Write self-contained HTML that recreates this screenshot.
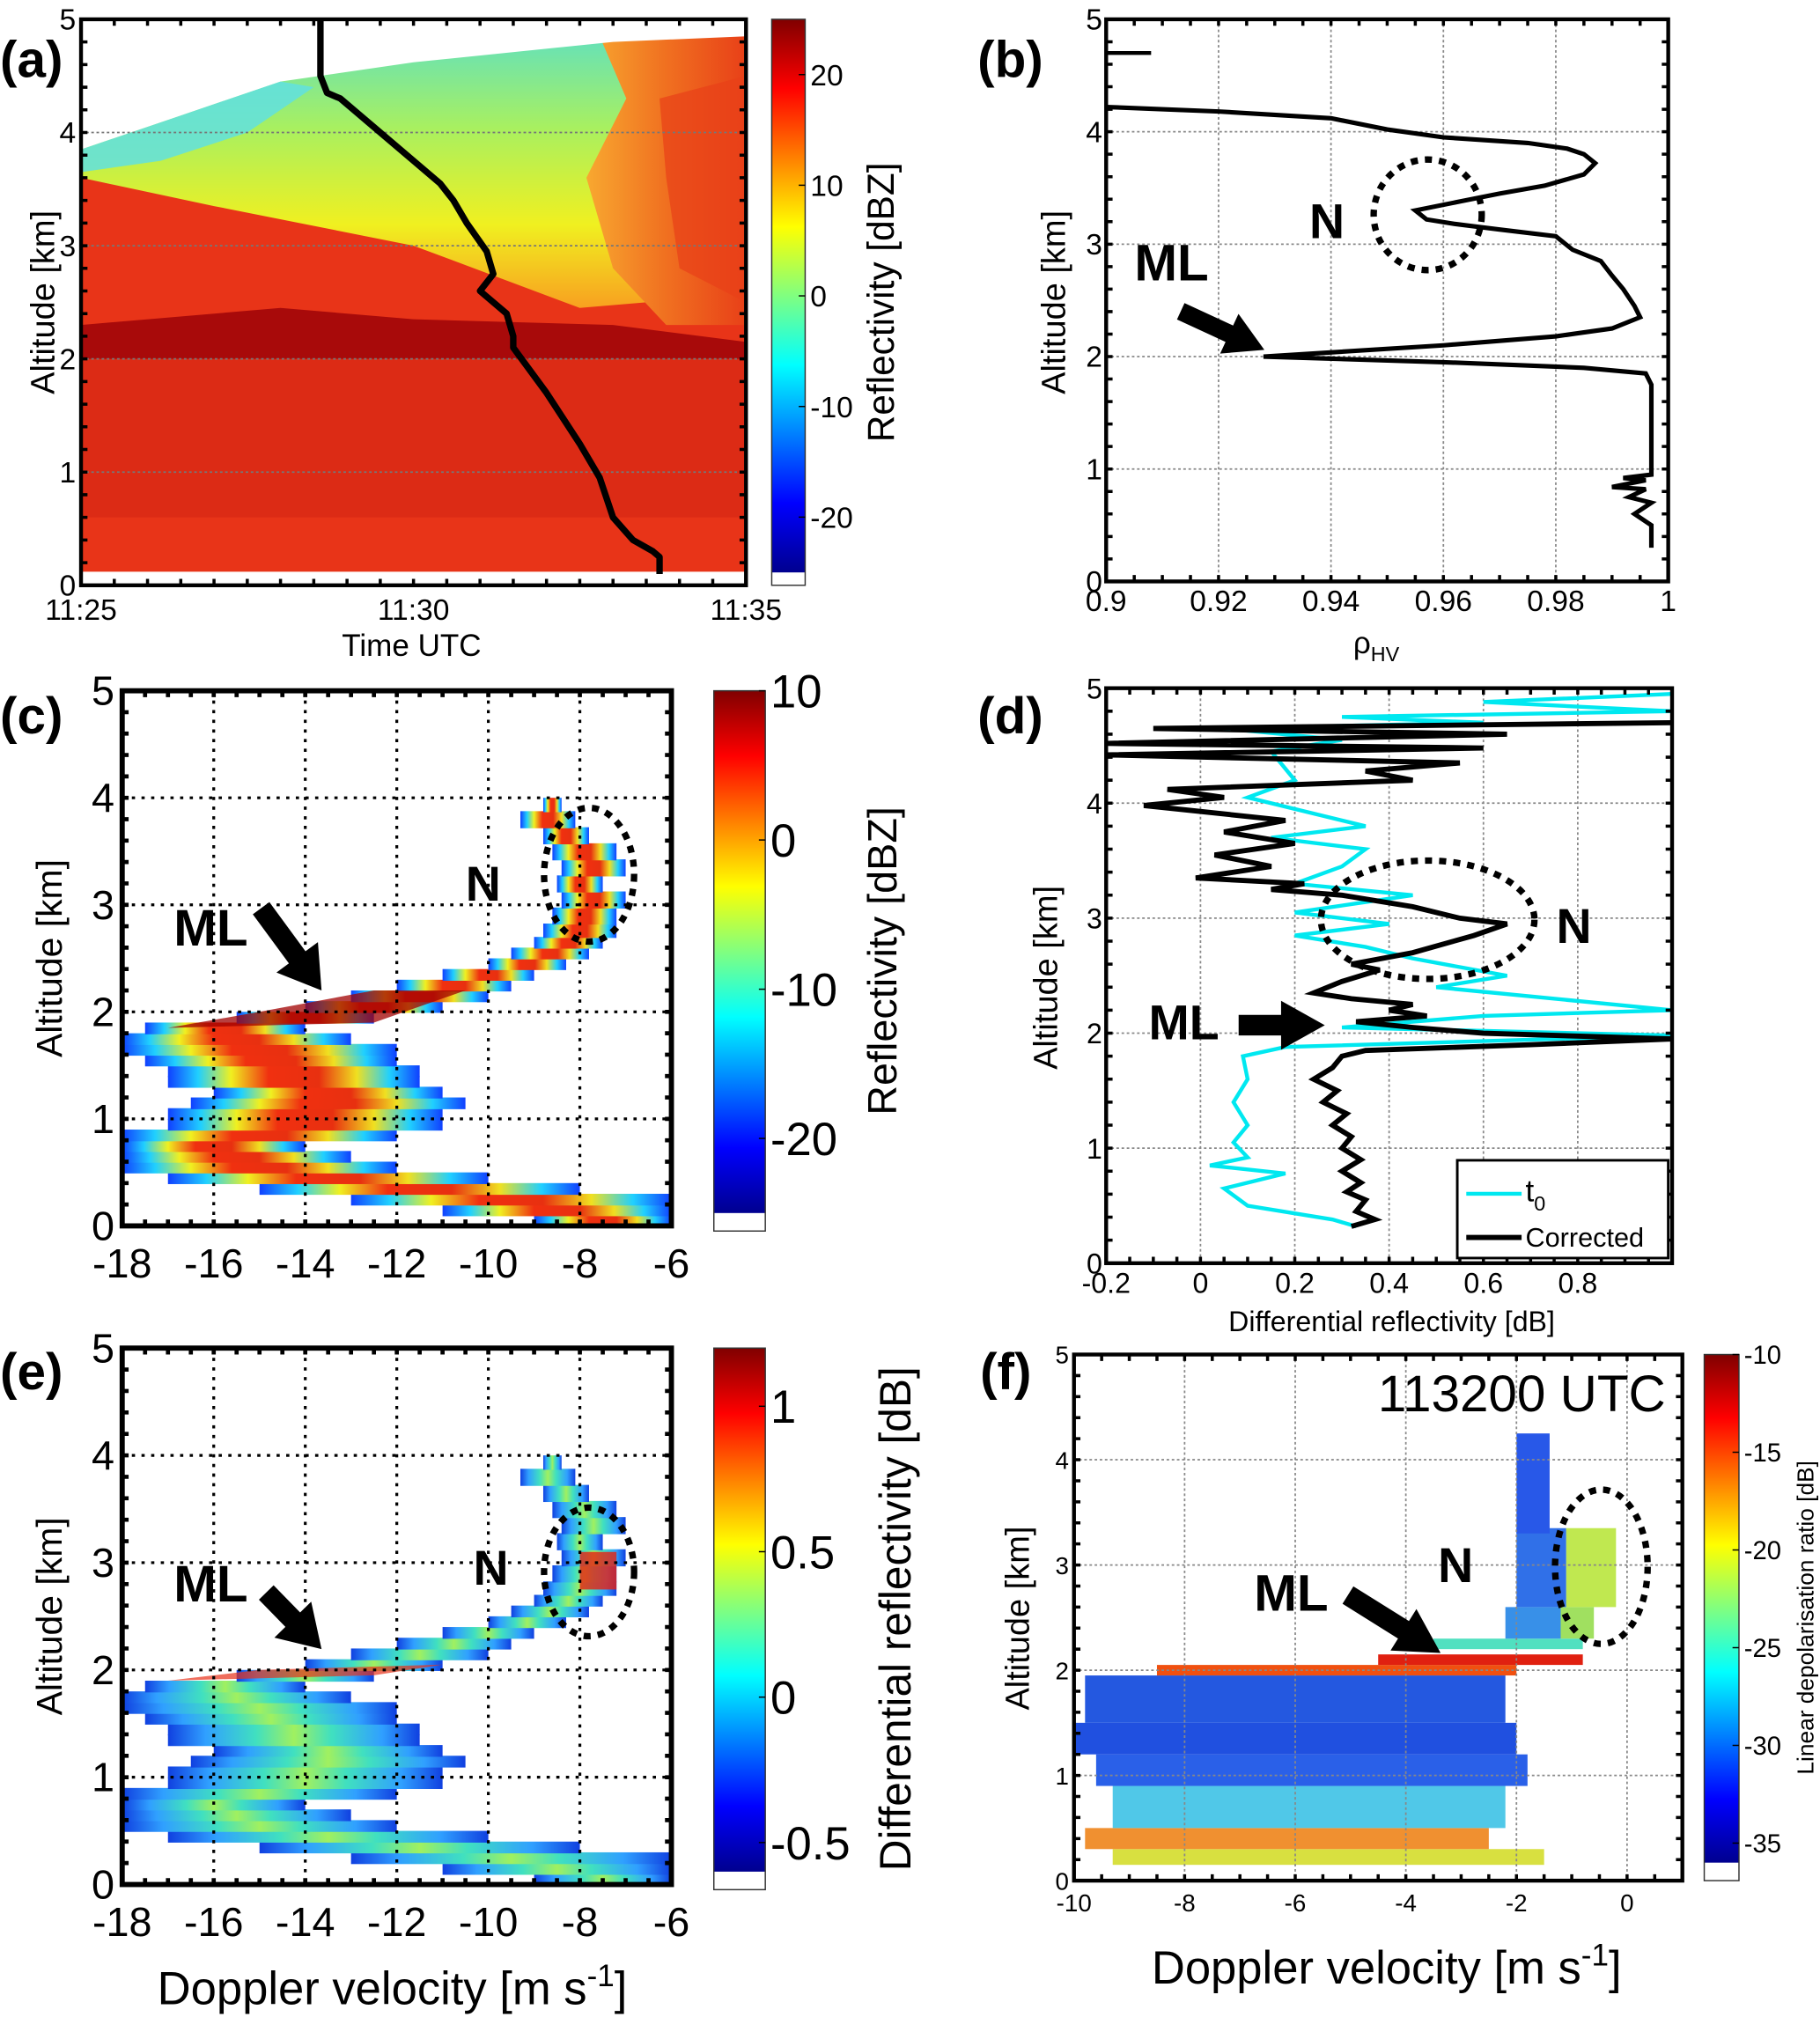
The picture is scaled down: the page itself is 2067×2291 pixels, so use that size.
<!DOCTYPE html>
<html><head><meta charset="utf-8">
<style>
html,body{margin:0;padding:0;background:#fff;}
svg{display:block;font-family:"Liberation Sans",sans-serif;}
</style></head>
<body>
<svg id="fig" xmlns="http://www.w3.org/2000/svg" width="2067" height="2291" viewBox="0 0 1415 1568" preserveAspectRatio="none">
<defs>
<linearGradient id="jetV" x1="0" y1="1" x2="0" y2="0">
<stop offset="0" stop-color="#00008f"/><stop offset="0.125" stop-color="#0000ff"/><stop offset="0.375" stop-color="#00ffff"/><stop offset="0.5" stop-color="#80ff80"/><stop offset="0.625" stop-color="#ffff00"/><stop offset="0.875" stop-color="#ff0000"/><stop offset="1" stop-color="#800000"/>
</linearGradient>
<linearGradient id="rowC" x1="0" y1="0" x2="1" y2="0">
<stop offset="0" stop-color="#1040ff"/><stop offset="0.12" stop-color="#20d0ff"/><stop offset="0.25" stop-color="#f0f020"/><stop offset="0.4" stop-color="#f03010"/><stop offset="0.6" stop-color="#e83010"/><stop offset="0.75" stop-color="#f0e020"/><stop offset="0.88" stop-color="#20d0ff"/><stop offset="1" stop-color="#1040ff"/>
</linearGradient>
<linearGradient id="rowE" x1="0" y1="0" x2="1" y2="0">
<stop offset="0" stop-color="#1040e0"/><stop offset="0.15" stop-color="#30a0ff"/><stop offset="0.35" stop-color="#40e0c0"/><stop offset="0.5" stop-color="#a0f060"/><stop offset="0.65" stop-color="#40e0c0"/><stop offset="0.85" stop-color="#30a0ff"/><stop offset="1" stop-color="#1040e0"/>
</linearGradient>
<linearGradient id="aTop" x1="0" y1="0" x2="0" y2="1">
<stop offset="0" stop-color="#60e0c0"/><stop offset="0.35" stop-color="#a8f060"/><stop offset="0.7" stop-color="#f0f020"/><stop offset="1" stop-color="#f8a020"/>
</linearGradient>
<linearGradient id="aRight" x1="0" y1="0" x2="1" y2="0">
<stop offset="0" stop-color="#f8a830"/><stop offset="0.5" stop-color="#f07020"/><stop offset="1" stop-color="#e84018"/>
</linearGradient>
</defs>
<g id="root"></g>
</svg>
<script>
// ---------- data ----------
const trajT = [3.6,3.6,3.7,3.9,4.4,5.0,5.4,5.6,5.8,6.1,6.2,6.0,6.4,6.5,6.5,7.0,7.5,7.8,8.0,8.3,8.6,8.7,8.7];
const trajA = [5.0,4.5,4.35,4.3,4.05,3.75,3.55,3.4,3.2,2.95,2.75,2.6,2.4,2.2,2.1,1.7,1.25,0.95,0.6,0.4,0.3,0.25,0.1];
const rhoV = [0.9,0.92,0.94,0.95,0.96,0.975,0.982,0.985,0.987,0.985,0.978,0.97,0.963,0.955,0.957,0.962,0.97,0.98,0.983,0.988,0.99,0.992,0.994,0.995,0.99,0.98,0.96,0.928,0.96,0.985,0.996,0.997,0.997,0.997,0.997,0.992,0.996,0.99,0.996,0.993,0.997,0.994,0.997,0.997];
const rhoA = [4.22,4.18,4.12,4.02,3.95,3.9,3.85,3.8,3.72,3.62,3.52,3.45,3.38,3.3,3.22,3.18,3.13,3.07,2.95,2.85,2.72,2.6,2.45,2.35,2.25,2.18,2.1,2.0,1.95,1.9,1.85,1.75,1.5,1.2,0.95,0.92,0.9,0.84,0.82,0.75,0.7,0.6,0.5,0.3];
const corrV = [0.32,0.37,0.33,0.35,0.31,0.34,0.30,0.34,0.30,0.32,0.28,0.31,0.26,0.29,0.24,0.28,0.30,0.35,0.7,1.0,0.6,0.45,0.33,0.48,0.4,0.45,0.32,0.24,0.30,0.38,0.32,0.45,0.58,0.65,0.55,0.45,0.30,0.15,0.22,-0.01,0.15,0.03,0.2,0.05,0.18,-0.12,0.05,-0.07,0.45,0.35,0.55,-0.2,0.6,-0.2,0.65,-0.1,1.0];
const corrA = [0.32,0.38,0.45,0.55,0.62,0.7,0.8,0.9,1.0,1.1,1.2,1.3,1.4,1.5,1.6,1.7,1.8,1.85,1.9,1.95,2.0,2.05,2.1,2.15,2.2,2.25,2.3,2.35,2.45,2.55,2.6,2.7,2.85,2.95,3.0,3.1,3.2,3.25,3.3,3.35,3.45,3.55,3.65,3.75,3.85,3.98,4.05,4.12,4.2,4.28,4.35,4.42,4.48,4.52,4.6,4.65,4.7];
const t0V = [0.33,0.28,0.1,0.05,0.18,0.02,0.1,0.07,0.1,0.07,0.1,0.09,0.18,1.0,0.3,0.6,1.0,0.5,0.65,0.45,0.35,0.2,0.4,0.2,0.45,0.2,0.3,0.35,0.15,0.35,0.2,0.1,0.2,0.15,0.3,0.05,0.6,0.3,1.0,0.6,1.0];
const t0A = [0.32,0.38,0.5,0.65,0.78,0.85,0.92,1.05,1.2,1.4,1.6,1.8,1.88,1.98,2.05,2.15,2.2,2.4,2.5,2.65,2.75,2.85,2.95,3.05,3.2,3.3,3.45,3.6,3.7,3.8,3.95,4.05,4.2,4.45,4.55,4.65,4.7,4.75,4.8,4.88,4.95];
const specA = [0.05,0.15,0.25,0.35,0.45,0.55,0.65,0.75,0.85,0.95,1.05,1.15,1.25,1.35,1.45,1.55,1.65,1.75,1.85,1.95,2.05,2.15,2.25,2.35,2.45,2.55,2.65,2.75,2.9,3.05,3.2,3.35,3.5,3.65,3.8,3.95];
const specL = [-9,-11,-13,-15,-17,-18,-18,-18,-18,-17,-17,-16.5,-16,-17,-17,-17.5,-18,-18,-17.5,-15.5,-14,-13,-12,-11,-10,-9.5,-9,-8.8,-8.6,-8.4,-8.5,-8.4,-8.6,-8.8,-9.3,-8.8];
const specR = [-6,-6,-6,-8,-10,-12,-13,-14,-12,-11,-11,-10.5,-11,-11.5,-11.5,-12,-12,-13,-14,-12.5,-11,-10,-9.5,-9,-8.3,-7.8,-7.5,-7.2,-7.2,-7.0,-7.5,-7.0,-7.2,-7.8,-8.1,-8.4];
const ldrA0 = [0.15,0.3,0.5,0.9,1.2,1.5,1.95,2.05,2.2,2.3,2.3,2.6,2.6,3.3];
const ldrA1 = [0.3,0.5,0.9,1.2,1.5,1.95,2.05,2.15,2.3,2.6,2.6,3.35,3.35,4.25];
const ldrL = [-9.3,-9.8,-9.3,-9.6,-10,-9.8,-8.5,-4.5,-3.5,-2.2,-1.2,-2.0,-1.1,-2.0];
const ldrR = [-1.5,-2.5,-2.2,-1.8,-2.0,-2.2,-2.0,-0.8,-0.8,-1.2,-0.6,-1.1,-0.2,-1.4];
const ldrC = ["#d8e040","#f09030","#50c8e8","#2a60e8","#2050e0","#2458e0","#f05010","#e02010","#50e0c0","#3890e8","#a0e060","#3070e8","#c0e850","#2858e8"];
const ticksAlt = [0,1,2,3,4,5];
const ticksTime = ["11:25","11:30","11:35"];
const ticksRho = [0.9,0.92,0.94,0.96,0.98,1];
const ticksVel = [-18,-16,-14,-12,-10,-8,-6];
const ticksZdr = [-0.2,0,0.2,0.4,0.6,0.8];
const ticksVelF = [-10,-8,-6,-4,-2,0];
const cbA = [20,10,0,-10,-20];
const cbC = [10,0,-10,-20];
const cbE = [1,0.5,0,-0.5];
const cbF = [-10,-15,-20,-25,-30,-35];

// ---------- helpers ----------
const NS="http://www.w3.org/2000/svg";
const root=document.getElementById('root');
function mk(tag,attrs,parent,text){const e=document.createElementNS(NS,tag);for(const k in attrs)e.setAttribute(k,attrs[k]);if(text!==undefined)e.textContent=text;(parent||root).appendChild(e);return e;}
function lin(d0,d1,p0,p1){return v=>p0+(v-d0)/(d1-d0)*(p1-p0);}
function txt(x,y,s,size,anchor,parent,extra){return mk('text',Object.assign({x:x,y:y,'font-size':size,'text-anchor':anchor||'middle',fill:'#000'},extra||{}),parent,s);}
function panel(name){const g=mk('g',{});return g;}
function gridAndBox(g,x0,x1,y0,y1,gx,gy,bw,dash,gc){
  gx.forEach(x=>{const l=mk('line',{x1:x,x2:x,y1:y0,y2:y1,stroke:gc,'stroke-width':bw>2?2.2:1.2,'stroke-dasharray':dash},g);});
  gy.forEach(y=>{const l=mk('line',{x1:x0,x2:x1,y1:y,y2:y,stroke:gc,'stroke-width':bw>2?2.2:1.2,'stroke-dasharray':dash},g);});
}
function box(g,x0,x1,y0,y1,bw,nx,ny){
  const r=mk('rect',{x:x0,y:y0,width:x1-x0,height:y1-y0,fill:'none',stroke:'#000','stroke-width':bw},g);
  
  
  let d='';
  for(let i=1;i<nx;i++){const x=x0+(x1-x0)*i/nx;d+=`M${x},${y1}v-5M${x},${y0}v5`;}
  for(let i=1;i<ny;i++){const y=y0+(y1-y0)*i/ny;d+=`M${x0},${y}h5M${x1},${y}h-5`;}
  mk('path',{d:d,stroke:'#000','stroke-width':bw*0.8,fill:'none'},g);
}
function colorbar(name,x,y,w,h,ticks,v0,v1,size,lx,label,lsize,whiteH){
  const g=mk('g',{});
  
  
  const ys=lin(v0,v1,y+h-whiteH,y);
  mk('rect',{x:x,y:y,width:w,height:h-whiteH,fill:'url(#jetV)'},g);
  mk('rect',{x:x,y:y,width:w,height:h,fill:'none',stroke:'#333','stroke-width':1},g);
  ticks.forEach(t=>{const yy=ys(t);mk('line',{x1:x+w-5,x2:x+w,y1:yy,y2:yy,stroke:'#000'},g);const e=txt(x+w+4,yy+size*0.36,String(t),size,'start',g);});
  const cy=y+h/2;
  const lab=txt(lx,cy,label,lsize,'middle',g,{transform:`rotate(-90 ${lx} ${cy})`});
  
  
}
function arrow(g,x0,y0,x1,y1,w,hw,hl){
  const dx=x1-x0,dy=y1-y0,L=Math.hypot(dx,dy),ux=dx/L,uy=dy/L,px=-uy,py=ux;
  const bx=x1-ux*hl,by=y1-uy*hl;
  const pts=[[x0+px*w,y0+py*w],[bx+px*w,by+py*w],[bx+px*hw,by+py*hw],[x1,y1],[bx-px*hw,by-py*hw],[bx-px*w,by-py*w],[x0-px*w,y0-py*w]];
  const a=mk('polygon',{points:pts.map(p=>p.join(',')).join(' '),fill:'#000'},g);
  
  
}
function ell(g,cx,cy,rx,ry,sw){const e=mk('ellipse',{cx:cx,cy:cy,rx:rx,ry:ry,fill:'none',stroke:'#000','stroke-width':sw,'stroke-dasharray':`${sw*1.1} ${sw*1.1}`},g);}
function label(s,x,y,size,name){const e=txt(x,y,s,size,'start',null,{'font-weight':'bold'});}
function ytitle(g,x,cy,s,size){const e=txt(x,cy,s,size,'middle',g,{transform:`rotate(-90 ${x} ${cy})`});}

// ---------- panel a ----------
(function(){
  const X0=63,X1=580,Y0=15,Y1=455;
  const xs=lin(0,10,X0,X1), ys=lin(0,5,Y1,Y0);
  const g=panel('panel-a-time-height');
  const P=a=>a.map(p=>xs(p[0])+','+ys(p[1])).join(' ');
  mk('rect',{x:X0,y:ys(4.9),width:X1-X0,height:ys(0.12)-ys(4.9),fill:'#e83418'},g);
  // yellow/green upper region
  mk('polygon',{points:P([[0,3.85],[1.5,4.2],[3,4.5],[5,4.7],[8,4.85],[10,4.9],[10,3.6],[8.5,2.5],[7.5,2.45],[5,3.0],[2,3.35],[0,3.6]]),fill:'url(#aTop)'},g);
  // right orange-red region
  mk('polygon',{points:P([[7.8,4.85],[10,4.9],[10,2.3],[8.8,2.3],[8.0,2.8],[7.6,3.6],[8.2,4.3]]),fill:'url(#aRight)'},g);
  mk('polygon',{points:P([[8.7,4.3],[10,4.5],[10,2.5],[9,2.8],[8.8,3.6]]),fill:'#e84018',opacity:0.7},g);
  // white top
  mk('polygon',{points:P([[0,5],[0,3.85],[1.5,4.15],[3,4.45],[5,4.62],[8,4.8],[10,4.85],[10,5]]),fill:'#fff'},g);
  // cyan speckle edge
  mk('polygon',{points:P([[0,3.85],[1.5,4.15],[3,4.45],[3.5,4.4],[2.5,4.0],[1.2,3.75],[0,3.65]]),fill:'#60e0e0',opacity:0.85},g);
  // ML dark band
  mk('polygon',{points:P([[0,2.0],[10,2.0],[10,2.15],[8,2.3],[5,2.35],[3,2.45],[0,2.3]]),fill:'#a80a0a'},g);
  mk('rect',{x:X0,y:ys(2.0),width:X1-X0,height:ys(0.6)-ys(2.0),fill:'#c01810',opacity:0.3},g);
  gridAndBox(g,X0,X1,Y0,Y1,[],ticksAlt.slice(1,5).map(ys),1,'2 2','#777');
  const d=trajT.map((t,i)=>(i?'L':'M')+xs(t)+','+ys(trajA[i])).join('');
  const p=mk('path',{d:d,stroke:'#000','stroke-width':5,fill:'none','stroke-linejoin':'round'},g);
  
  
  box(g,X0,X1,Y0,Y1,3,20,25);
  ticksAlt.forEach(v=>{const e=txt(X0-4,ys(v)+8,String(v),23,'end',g);});
  ticksTime.forEach((s,i)=>{const e=txt(xs(i*5),482,s,23,'middle',g);});
  const xt=txt(320,510,'Time UTC',24,'middle',g);
  ytitle(g,42,235,'Altitude [km]',26);
  colorbar('colorbar-a',600,15,26,440,cbA,-25,25,23,695,'Reflectivity [dBZ]',29,10);
  label('(a)',0,60,40,'panel-label-a');
})();

// ---------- panel b ----------
(function(){
  const X0=860,X1=1297,Y0=15,Y1=452;
  const xs=lin(0.9,1,X0,X1), ys=lin(0,5,Y1,Y0);
  const g=panel('panel-b-rhohv');
  gridAndBox(g,X0,X1,Y0,Y1,ticksRho.slice(1,5).map(xs),ticksAlt.slice(1,5).map(ys),1,'2 2','#888');
  mk('path',{d:`M${xs(0.9)},${ys(4.7)}H${xs(0.908)}`,stroke:'#000','stroke-width':3},g);
  const d=rhoV.map((v,i)=>(i?'L':'M')+xs(v)+','+ys(rhoA[i])).join('');
  const p=mk('path',{d:d,stroke:'#000','stroke-width':3.5,fill:'none'},g);
  
  
  box(g,X0,X1,Y0,Y1,3,20,25);
  ticksAlt.forEach(v=>{const e=txt(X0-3,ys(v)+8,String(v),23,'end',g);});
  ticksRho.forEach(v=>{const e=txt(xs(v),475,String(v),23,'middle',g);});
  const xt=txt(1070,508,'ρ',24,'middle',g);
  mk('tspan',{'font-size':16,dy:6},xt,'HV');
  ytitle(g,828,235,'Altitude [km]',26);
  ell(g,1110,167,42,43,5);
  arrow(g,918,242,983,272,7,17,30);
  label('ML',882,218,40,'ml-label-b');
  label('N',1018,185,38,'n-label-b');
  label('(b)',760,60,40,'panel-label-b');
})();

// ---------- spectrum panels c and e ----------
function spectrum(name,Y0,Y1,grad,cbTicks,cv0,cv1,cbLabel,cbLsize,letter,ly,extra){
  const X0=95,X1=522;
  const xs=lin(-18,-6,X0,X1), ys=lin(0,5,Y1,Y0);
  const g=panel(name);
  specA.forEach((a,i)=>{
    const lo=i>0?(a+specA[i-1])/2:a-0.05, hi=i<specA.length-1?(a+specA[i+1])/2:a+0.05;
    const r=mk('rect',{x:xs(specL[i]),y:ys(hi),width:Math.max(2,xs(specR[i])-xs(specL[i])),height:ys(lo)-ys(hi)+0.8,fill:`url(#${grad})`},g);
    
    
  });
  if(extra)extra(g,xs,ys);
  gridAndBox(g,X0,X1,Y0,Y1,ticksVel.slice(1,6).map(xs),ticksAlt.slice(1,5).map(ys),3,'2.5 5','#000');
  box(g,X0,X1,Y0,Y1,4,24,25);
  ticksAlt.forEach(v=>{const e=txt(X0-6,ys(v)+11,String(v),32,'end',g);});
  ticksVel.forEach(v=>{const e=txt(xs(v),Y1+40,String(v),32,'middle',g);});
  ytitle(g,48,(Y0+Y1)/2,'Altitude [km]',28);
  colorbar('colorbar-'+letter,555,Y0,40,Y1-Y0+4,cbTicks,cv0,cv1,36,cbLabel==='Reflectivity [dBZ]'?697:708,cbLabel,cbLsize,14);
  label('('+letter+')',0,ly,40,'panel-label-'+letter);
  return {g,xs,ys};
}
(function(){
  const r=spectrum('panel-c-doppler-reflectivity',537,953,'rowC',cbC,-25,10,'Reflectivity [dBZ]',32,'c',570,(g,xs,ys)=>{
    mk('polygon',{points:[[-17,1.85],[-12.5,1.9],[-10.5,2.2],[-12.5,2.2],[-15,2.0]].map(p=>xs(p[0])+','+ys(p[1])).join(' '),fill:'#a00000',opacity:0.75},g);
  });
  ell(r.g,458,680,35,52,5);
  arrow(r.g,203,706,250,770,8,20,32);
  label('ML',135,735,40,'ml-label-c');
  label('N',362,700,38,'n-label-c');
})();
(function(){
  const r=spectrum('panel-e-doppler-zdr',1048,1465,'rowE',cbE,-0.6,1.2,'Differential reflectivity [dB]',34,'e',1080,(g,xs,ys)=>{
    mk('polygon',{points:[[-17,1.9],[-12.5,1.95],[-11,2.05],[-15,2.0]].map(p=>xs(p[0])+','+ys(p[1])).join(' '),fill:'#e83018',opacity:0.7},g);
    mk('rect',{x:xs(-8),y:ys(3.1),width:xs(-7.2)-xs(-8),height:ys(2.75)-ys(3.1),fill:'#e82010',opacity:0.8},g);
  });
  ell(r.g,458,1222,35,50,5);
  arrow(r.g,207,1238,250,1282,8,20,32);
  label('ML',135,1245,40,'ml-label-e');
  label('N',368,1232,38,'n-label-e');
  const xt=txt(305,1558,'Doppler velocity [m s',36,'middle',r.g);
  mk('tspan',{'font-size':24,dy:-14},xt,'-1');mk('tspan',{'font-size':36,dy:14},xt,']');
})();

// ---------- panel d ----------
(function(){
  const X0=860,X1=1300,Y0=535,Y1=982;
  const xs=lin(-0.2,1.0,X0,X1), ys=lin(0,5,Y1,Y0);
  const g=panel('panel-d-zdr-profile');
  const cp=mk('clipPath',{id:'clipD'},g);
  mk('rect',{x:X0,y:Y0,width:X1-X0,height:Y1-Y0},cp);
  gridAndBox(g,X0,X1,Y0,Y1,ticksZdr.slice(1).map(xs),ticksAlt.slice(1,5).map(ys),1,'2 2','#888');
  const d0=t0V.map((v,i)=>(i?'L':'M')+xs(v)+','+ys(t0A[i])).join('');
  const p0=mk('path',{d:d0,stroke:'#00e8f0','stroke-width':3,fill:'none','clip-path':'url(#clipD)'},g);
  
  const d1=corrV.map((v,i)=>(i?'L':'M')+xs(v)+','+ys(corrA[i])).join('');
  const p1=mk('path',{d:d1,stroke:'#000','stroke-width':4,fill:'none','clip-path':'url(#clipD)'},g);
  
  box(g,X0,X1,Y0,Y1,3,24,25);
  ticksAlt.forEach(v=>{const e=txt(X0-3,ys(v)+8,String(v),22,'end',g);});
  ticksZdr.forEach(v=>{const e=txt(xs(v),1005,String(v),22,'middle',g);});
  const xt=txt(1082,1035,'Differential reflectivity [dB]',22,'middle',g);
  ytitle(g,822,760,'Altitude [km]',26);
  const lg=mk('g',{},g);
  mk('rect',{x:1133,y:902,width:164,height:76,fill:'#fff',stroke:'#000','stroke-width':2},lg);
  mk('line',{x1:1140,x2:1183,y1:928,y2:928,stroke:'#00e8f0','stroke-width':3},lg);
  const t1=txt(1186,934,'t',24,'start',lg);mk('tspan',{'font-size':16,dy:7},t1,'0');
  mk('line',{x1:1140,x2:1183,y1:962,y2:962,stroke:'#000','stroke-width':4},lg);
  const t2=txt(1186,969,'Corrected',21,'start',lg);
  ell(g,1110,715,83,46,5);
  arrow(g,963,797,1030,797,8,19,34);
  label('ML',893,808,38,'ml-label-d');
  label('N',1210,733,38,'n-label-d');
  label('(d)',760,570,40,'panel-label-d');
})();

// ---------- panel f ----------
(function(){
  const X0=835,X1=1308,Y0=1053,Y1=1462;
  const xs=lin(-10,1,X0,X1), ys=lin(0,5,Y1,Y0);
  const g=panel('panel-f-ldr');
  ldrA0.forEach((a,i)=>{
    const r=mk('rect',{x:xs(ldrL[i]),y:ys(ldrA1[i]),width:xs(ldrR[i])-xs(ldrL[i]),height:ys(a)-ys(ldrA1[i]),fill:ldrC[i]},g);
    
    
  });
  gridAndBox(g,X0,X1,Y0,Y1,ticksVelF.slice(1).map(xs),ticksAlt.slice(1,5).map(ys),1,'2 2','#888');
  box(g,X0,X1,Y0,Y1,3,22,25);
  ticksAlt.forEach(v=>{const e=txt(X0-4,ys(v)+7,String(v),19,'end',g);});
  ticksVelF.forEach(v=>{const e=txt(xs(v),1486,String(v),19,'middle',g);});
  const xt=txt(1078,1542,'Doppler velocity [m s',36,'middle',g);
  mk('tspan',{'font-size':24,dy:-14},xt,'-1');mk('tspan',{'font-size':36,dy:14},xt,']');
  ytitle(g,800,1258,'Altitude [km]',26);
  const ts=txt(1295,1097,'113200 UTC',40,'end',g);
  colorbar('colorbar-f',1325,1053,27,409,cbF,-36,-10,20,1410,'Linear depolarisation ratio [dB]',18,14);
  ell(g,1245,1218,36,60,5);
  arrow(g,1048,1240,1120,1285,8,19,34);
  label('ML',975,1252,40,'ml-label-f');
  label('N',1118,1230,38,'n-label-f');
  label('(f)',762,1080,40,'panel-label-f');
})();
</script>
</body></html>
